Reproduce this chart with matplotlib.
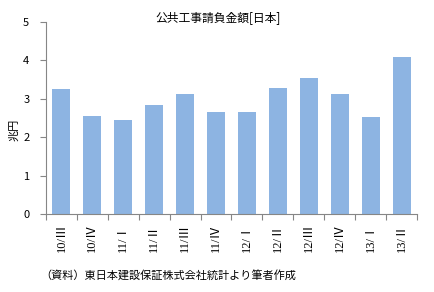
import matplotlib
matplotlib.use("Agg")
import matplotlib.pyplot as plt
import numpy as np

plt.rcParams['font.family'] = ['Noto Sans CJK JP', 'DejaVu Sans']

categories = ["10/Ⅲ", "10/Ⅳ", "11/Ⅰ", "11/Ⅱ", "11/Ⅲ", "11/Ⅳ",
              "12/Ⅰ", "12/Ⅱ", "12/Ⅲ", "12/Ⅳ", "13/Ⅰ", "13/Ⅱ"]
values = [3.25, 2.54, 2.44, 2.84, 3.12, 2.65, 2.66, 3.27, 3.53, 3.12, 2.52, 4.08]
yticks = [0, 1, 2, 3, 4, 5]

title = "公共工事請負金額[日本]"
ylabel = "兆円"
source = "（資料）東日本建設保証株式会社統計より筆者作成"

W, H = 435, 292
fig = plt.figure(figsize=(W / 100, H / 100), dpi=100)
ax = fig.add_axes([46 / W, (H - 214) / H, 371 / W, (214 - 21.7) / H])

x = np.arange(len(categories))
ax.bar(x, values, width=0.58, color="#8DB4E2", edgecolor="none")

ax.set_xlim(-0.5, len(categories) - 0.5)
ax.set_ylim(0, 5)
ax.set_yticks(yticks)
ax.set_yticklabels([str(v) for v in yticks], fontsize=8)

ax.set_xticks(x)
ax.set_xticklabels(categories, rotation=90, fontsize=9,
                   family=['Liberation Serif', 'Noto Sans CJK JP'])
ax.set_xticks(np.arange(len(categories) + 1) - 0.5, minor=True)
ax.tick_params(axis='x', which='major', length=0, pad=7)
ax.tick_params(axis='x', which='minor', length=4, color="#868686", width=0.8)
ax.tick_params(axis='y', length=4, color="#868686", width=0.8, pad=8)

for s in ['top', 'right']:
    ax.spines[s].set_visible(False)
for s in ['left', 'bottom']:
    ax.spines[s].set_color("#868686")
    ax.spines[s].set_linewidth(0.8)

fig.text(218 / W, 1 - 18 / H, title, ha='center', va='center', fontsize=8.5)
fig.text(14 / W, 1 - 130 / H, ylabel, ha='center', va='center', rotation=90, fontsize=8)
fig.text(40 / W, 1 - 276 / H, source, ha='left', va='center', fontsize=8)

fig.savefig("out.png", dpi=100)
